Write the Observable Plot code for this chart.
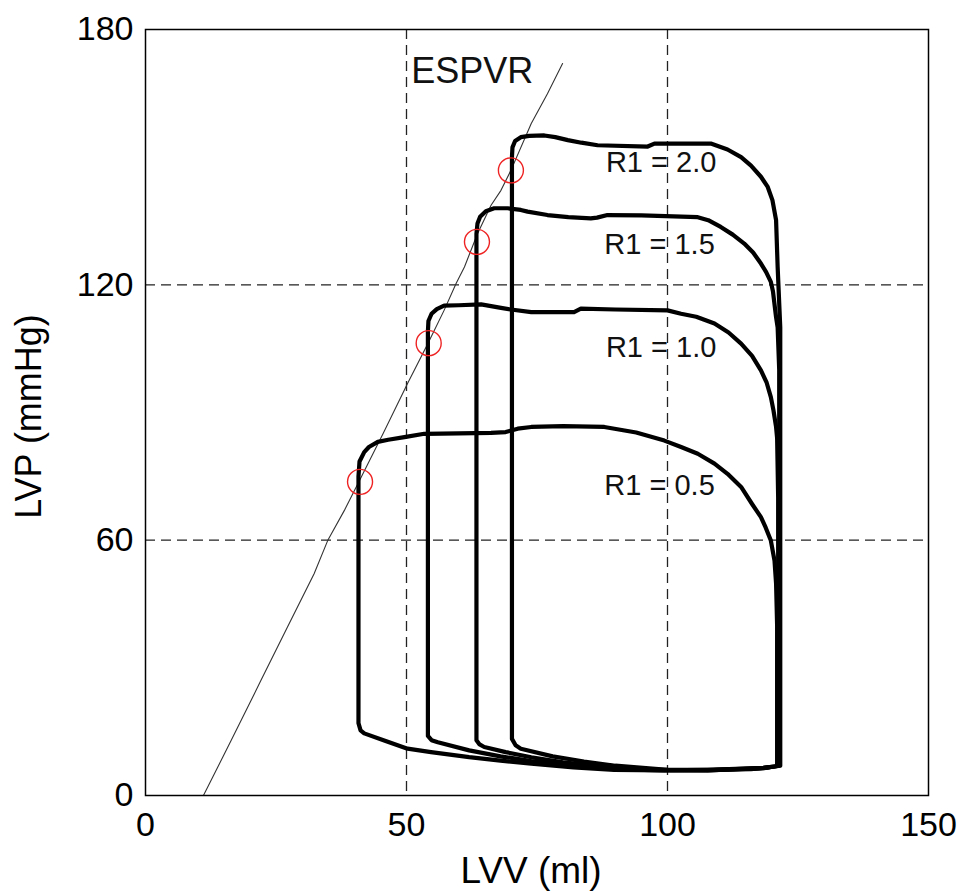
<!DOCTYPE html>
<html>
<head>
<meta charset="utf-8">
<script src="https://cdn.jsdelivr.net/npm/d3@7"></script>
<script src="https://cdn.jsdelivr.net/npm/@observablehq/plot@0.6"></script>
<style>
  html, body { margin: 0; padding: 0; background: #fff; }
  #chart svg { display: block; }
</style>
</head>
<body>
<div id="chart"></div>
<script>
// ---- Data (LVV in ml, LVP in mmHg) ----
const xTicks = [0, 50, 100, 150];
const yTicks = [0, 60, 120, 180];
const xGrid = [50, 100];
const yGrid = [60, 120];

// Pressure-volume loops: [volume, pressure]
const loopR05 = [
  [121.0, 7.0], [121.0, 40], [120.8, 49.8], [120.5, 55.2], [119.8, 59.9], [118.8, 63.0],
  [117.9, 65.4], [116.2, 68.5], [114.1, 72.5], [111.5, 75.6], [109.0, 78.0], [105.8, 80.3],
  [102.6, 81.9], [99.4, 83.4], [94.0, 85.3], [87.9, 86.6], [80.0, 86.8], [73.9, 86.6],
  [71.3, 86.2], [69.0, 85.4], [66.2, 85.2], [60.0, 85.1], [53.4, 85.0], [49.6, 84.2],
  [46.5, 83.6], [44.5, 83.1], [42.8, 81.9], [41.9, 80.7], [41.0, 78.5], [40.8, 75.0],
  [40.8, 17.0], [41.2, 15.3], [41.9, 14.6], [46.0, 12.8], [50.2, 11.0], [54.7, 10.2],
  [62.0, 9.0], [68.0, 8.2], [73.9, 7.5], [82.0, 6.6], [89.8, 6.0], [99.4, 5.9],
  [107.7, 6.0], [116.0, 6.2], [118.5, 6.5], [121.0, 7.0]
];
const loopR10 = [
  [121.2, 7.0], [121.2, 70], [121.0, 84.0], [120.8, 86.6], [120.3, 90.5], [119.8, 93.6],
  [119.0, 97.0], [117.9, 99.9], [116.2, 103.3], [114.1, 106.2], [111.7, 108.8], [109.0, 110.9],
  [105.5, 112.5], [102.6, 113.2], [100.0, 114.0], [90.0, 114.2], [83.4, 114.4], [82.1, 113.6],
  [73.9, 113.6], [70.0, 114.2], [68.1, 114.6], [64.3, 115.4], [60.0, 115.2], [57.2, 115.1],
  [55.8, 114.3], [54.8, 113.2], [54.2, 111.5], [54.1, 109.0],
  [54.1, 14.0], [54.8, 13.0], [56.0, 12.5], [62.0, 10.6], [68.0, 9.2], [73.9, 8.1],
  [82.0, 7.0], [89.8, 6.2], [99.4, 5.9], [107.7, 5.9], [118.5, 6.4], [121.2, 7.0]
];
const loopR15 = [
  [121.4, 7.0], [121.4, 100], [121.1, 110], [120.8, 112.4], [120.2, 118.5], [119.8, 120.7],
  [118.9, 123.0], [117.9, 125.0], [116.4, 127.6], [114.7, 129.7], [112.5, 131.8], [110.2, 133.6],
  [107.8, 135.2], [105.8, 135.9], [95.0, 136.3], [88.5, 136.4], [86.5, 135.8], [85.3, 135.6],
  [81.0, 135.9], [77.0, 136.4], [73.2, 137.2], [71.9, 137.6], [69.4, 138.0], [66.8, 138.0],
  [65.2, 137.3], [64.1, 136.0], [63.6, 134.4], [63.4, 132.0],
  [63.4, 13.0], [64.0, 12.0], [64.9, 11.4], [69.0, 10.2], [73.9, 9.0], [80.0, 7.8],
  [86.0, 7.0], [92.0, 6.4], [99.4, 6.0], [107.7, 6.0], [118.5, 6.5], [121.4, 7.0]
];
const loopR20 = [
  [121.6, 7.0], [121.6, 110], [121.1, 124.2], [120.8, 135.2], [120.1, 139.9], [119.2, 143.0],
  [117.9, 145.4], [116.0, 148.0], [114.1, 150.0], [111.5, 151.8], [108.3, 153.2], [100.0, 153.2],
  [97.5, 153.2], [96.2, 152.5], [86.6, 152.8], [83.5, 153.4], [80.9, 154.0], [78.5, 154.7],
  [76.4, 155.1], [73.5, 155.0], [71.9, 154.7], [70.8, 153.8], [70.3, 152.3], [70.2, 150.0],
  [70.2, 13.3], [70.9, 11.8], [71.9, 11.0], [78.0, 9.2], [84.0, 8.0], [90.0, 7.0],
  [100.0, 6.0], [107.7, 5.9], [118.5, 6.5], [121.6, 7.0]
];

// End-systolic pressure-volume relation
const espvr = [
  [11.1, 0], [16.4, 12.9], [22.1, 27.0], [27.2, 39.6], [32.3, 52.1], [34.9, 59.9],
  [38.1, 67.0], [41.0, 74.0], [45.5, 85.0], [50.2, 96.8], [54.1, 106.2], [57.2, 114.0],
  [59.5, 120.3], [61.1, 124.2], [63.6, 132.0], [66.2, 138.7], [68.1, 142.2], [70.0, 146.9],
  [73.9, 157.9], [77.0, 164.9], [79.9, 172.0]
];

// End-systolic points (red circles)
const esVolume = [41.1, 54.25, 63.5, 70.0];
const esPressure = [73.7, 106.3, 130.1, 146.9];

// Loop labels
const labelText = ["R1 = 0.5", "R1 = 1.0", "R1 = 1.5", "R1 = 2.0"];
const labelX = [87.9, 88.2, 87.9, 88.2];
const labelY = [72.7, 105.2, 129.4, 148.7];

const loops = [loopR05, loopR10, loopR15, loopR20];
const esPoints = esVolume.map((v, i) => ({v, p: esPressure[i]}));
const labels = labelText.map((t, i) => ({t, x: labelX[i], y: labelY[i]}));

const chart = Plot.plot({
  width: 963,
  height: 893,
  marginLeft: 145,
  marginRight: 35,
  marginTop: 29,
  marginBottom: 98,
  style: {fontFamily: "'Liberation Sans', Arial, Helvetica, sans-serif", color: "#000", background: "#fff"},
  x: {domain: [0, 150]},
  y: {domain: [0, 180]},
  marks: [
    Plot.gridX(xGrid, {stroke: "#222", strokeOpacity: 1, strokeWidth: 1.3, strokeDasharray: "10,6"}),
    Plot.gridY(yGrid, {stroke: "#222", strokeOpacity: 1, strokeWidth: 1.3, strokeDasharray: "10,6"}),
    Plot.axisX({ticks: xTicks, tickSize: 0, tickPadding: 16, fontSize: 34, label: null}),
    Plot.axisY({ticks: yTicks, tickSize: 0, tickPadding: 12, fontSize: 34, label: null}),
    Plot.line(espvr, {x: d => d[0], y: d => d[1], stroke: "#333", strokeWidth: 1.1}),
    ...loops.map(loop => Plot.line(loop, {x: d => d[0], y: d => d[1], stroke: "#000", strokeWidth: 4.2, strokeLinejoin: "round", strokeLinecap: "round"})),
    Plot.dot(esPoints, {x: "v", y: "p", r: 12.5, stroke: "#ee2222", strokeWidth: 1.4, fill: "none"}),
    Plot.text(labels, {x: "x", y: "y", text: "t", textAnchor: "start", fontSize: 29, fill: "#111"}),
    Plot.text(["ESPVR"], {x: 50.9, y: 170.2, textAnchor: "start", fontSize: 36, fill: "#111"}),
    Plot.text(["LVV (ml)"], {frameAnchor: "bottom", textAnchor: "middle", lineAnchor: "middle", dx: -6, dy: 76, fontSize: 37, fill: "#000"}),
    Plot.text(["LVP (mmHg)"], {frameAnchor: "left", textAnchor: "middle", lineAnchor: "middle", rotate: -90, dx: -116, dy: 4, fontSize: 36, fill: "#000"}),
    Plot.frame({stroke: "#000", strokeWidth: 1.5})
  ]
});
document.getElementById("chart").appendChild(chart);
</script>
</body>
</html>
